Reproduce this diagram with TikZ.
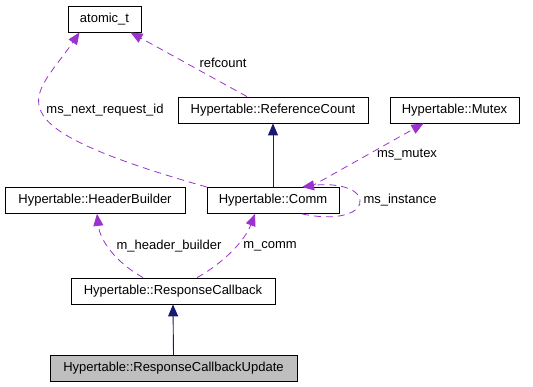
\documentclass[tikz,border=0pt]{standalone}
\usepackage{fontspec}
\setmainfont{Liberation Sans}
\usetikzlibrary{arrows.meta}
\definecolor{usepurple}{HTML}{9A32CD}
\definecolor{inhnavy}{HTML}{191970}
\definecolor{boxgray}{HTML}{BFBFBF}

\begin{document}
\begin{tikzpicture}[x=1pt,y=-1pt,
    font=\fontsize{13}{15}\selectfont,
    cls/.style={draw, line width=0.8pt, minimum height=26pt, inner sep=0pt, minimum width=#1},
    inherit/.style={draw=inhnavy, line width=0.9pt, -{Triangle[length=12pt,width=10pt]}},
    uses/.style={draw=usepurple, line width=0.8pt, dash pattern=on 7pt off 5pt, -{Triangle[length=12pt,width=10pt]}},
    lbl/.style={inner sep=1pt}]
    \useasboundingbox (0,0) rectangle (533,387);
    % classes
    \node[cls=73pt] (atomic) at (104.5,19) {atomic\_t};
    \node[cls=190pt] (refcnt) at (273,110) {Hypertable::ReferenceCount};
    \node[cls=129pt] (mutex) at (454.5,110) {Hypertable::Mutex};
    \node[cls=180pt] (hdrbld) at (95,200.5) {Hypertable::HeaderBuilder};
    \node[cls=132pt] (comm) at (273,200.5) {Hypertable::Comm};
    \node[cls=204pt] (respcb) at (173,291) {Hypertable::ResponseCallback};
    \node[cls=247pt, fill=boxgray] (respupd) at (173.5,368.5) {Hypertable::ResponseCallbackUpdate};
    % inheritance
    \draw[inherit] (comm.north) -- (refcnt.south);
    \draw[inherit] (respupd.north) -- (respcb.south);
    % members
    \draw[uses] ([xshift=-26pt]refcnt.north) -- ([xshift=26pt]atomic.south);
    \node[lbl] (lrefcount) at (223,63) {refcount};
    \draw[uses] ([xshift=-66pt]comm.north) .. controls (-19,123) and (35,98) .. ([xshift=-25pt]atomic.south);
    \node[lbl] (lnextreq) at (105,110) {ms\_next\_request\_id};
    \draw[uses] ([xshift=37pt]comm.north) -- ([xshift=-31pt]mutex.south);
    \node[lbl] (lmutex) at (407,155) {ms\_mutex};
    \draw[uses] ([xshift=29pt]comm.south) .. controls (340,222) and (362,212) .. (360,200)
        .. controls (358,186) and (330,183) .. ([xshift=29pt]comm.north);
    \node[lbl] (linstance) at (400,200) {ms\_instance};
    \draw[uses] ([xshift=-30pt]respcb.north) .. controls (115,262) and (100,240) .. ([xshift=2pt]hdrbld.south);
    \node[lbl] (lhdrbld) at (169,246) {m\_header\_builder};
    \draw[uses] ([xshift=24pt]respcb.north) .. controls (225,262) and (245,240) .. ([xshift=-18pt]comm.south);
    \node[lbl] (lcomm) at (270,246) {m\_comm};
\end{tikzpicture}
\end{document}
